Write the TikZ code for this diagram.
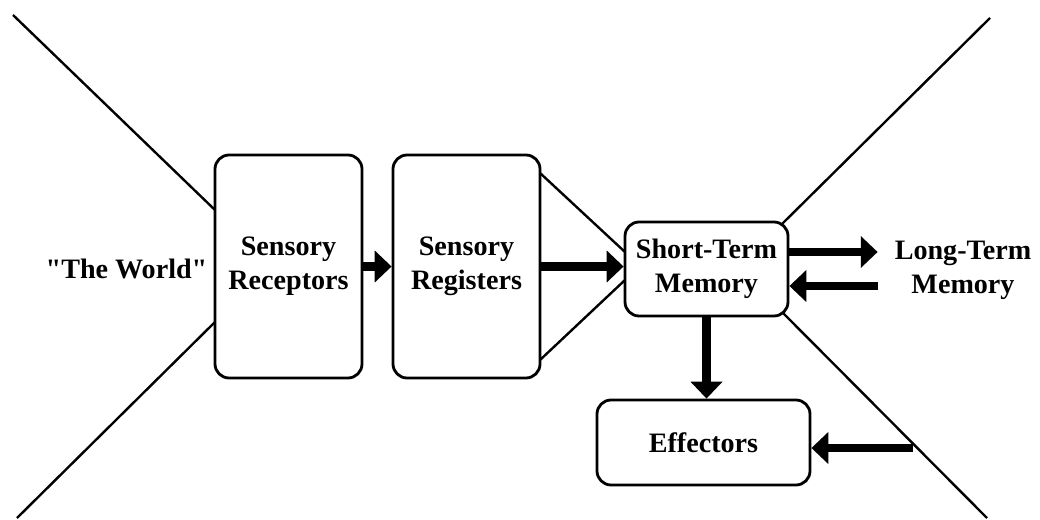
\documentclass[tikz,border=0pt]{standalone}
\usepackage{fontspec}
\setmainfont{Liberation Serif}[Ligatures=TeXOff]
\usepackage{tikz}
\usetikzlibrary{arrows.meta}
\tikzset{
	stage/.style={draw, line width=2pt, rounded corners=10pt, align=center, font=\bfseries\fontsize{20}{24}\selectfont},
	lbl/.style={align=center, font=\bfseries\fontsize{20}{24}\selectfont},
	flow/.style={line width=6pt, -{Triangle[length=12pt,width=22pt]}},
	cone/.style={line width=1.7pt}
}

\begin{document}
\begin{tikzpicture}
			%%%%% START %%%%%
			\useasboundingbox (0, 0) rectangle (26, 12.975);
			
			\draw[cone] (0.325, 12.6) -- (5.375, 7.725);
			\draw[cone] (0.425, 0.025) -- (5.375, 4.925);
			\draw[cone] (24.75, 12.525) -- (19.55, 7.375);
			\draw[cone] (24.675, 0.025) -- (19.55, 5.175);
			\draw[cone] (13.5, 8.65) -- (15.625, 6.675);
			\draw[cone] (13.5, 3.975) -- (15.625, 5.975);
			
			\node[lbl] (world) at (3.1625, 6.25) {"The World"};
			\node[stage, fill=white, minimum width=3.675cm, minimum height=5.575cm] (rec) at (7.2125, 6.3125) {Sensory\\Receptors};
			\node[stage, fill=white, minimum width=3.675cm, minimum height=5.575cm] (reg) at (11.6625, 6.3125) {Sensory\\Registers};
			\node[stage, fill=white, minimum width=4.075cm, minimum height=2.35cm, inner sep=1pt] (stm) at (17.6625, 6.25) {Short-Term\\Memory};
			\node[stage, fill=white, minimum width=5.325cm, minimum height=2.125cm] (eff) at (17.5875, 1.9125) {Effectors};
			\node[lbl, inner xsep=12pt] (ltm) at (24.075, 6.225) {Long-Term\\Memory};
			\coordinate (tap) at (22.825, 1.775);
			
			\draw[flow] (rec.east) -- (reg.west);
			\draw[flow] (reg.east) -- (reg.east -| stm.west);
			\draw[flow] ([yshift=0.425cm]stm.east) -- ([yshift=0.425cm]stm.east -| ltm.west);
			\draw[flow] ([yshift=-0.425cm]stm.east -| ltm.west) -- ([yshift=-0.425cm]stm.east);
			\draw[flow] (stm.south) -- (stm.south |- eff.north);
			\draw[flow] (tap) -- (tap -| eff.east);
			%%%%% END %%%%%
\end{tikzpicture}
\end{document}
